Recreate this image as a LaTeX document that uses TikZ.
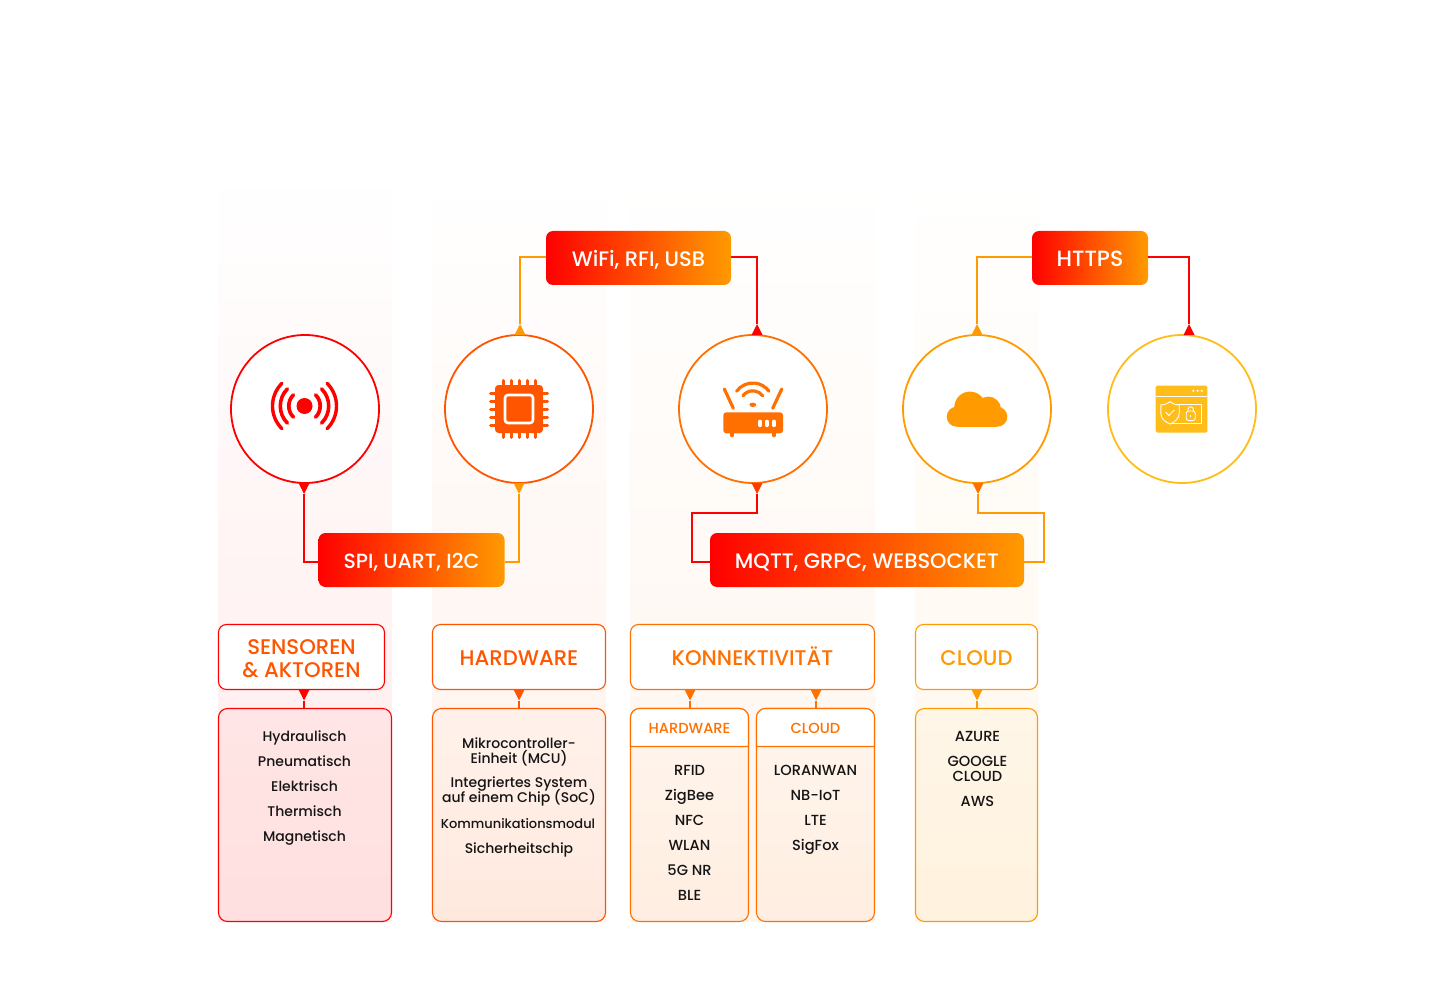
\documentclass[tikz,border=0pt]{standalone}
\usepackage{fontspec}
\setmainfont{Poppins}[UprightFont=* Medium]
\usetikzlibrary{arrows.meta,calc}

\definecolor{cRed}{HTML}{FF0000}
\definecolor{cDeep}{HTML}{FF5500}
\definecolor{cRouter}{HTML}{FF7000}
\definecolor{cAmber}{HTML}{FF9A00}
\definecolor{cGold}{HTML}{FFBD1A}
\definecolor{cInk}{HTML}{141414}

\begin{document}
\begin{tikzpicture}[x=1pt,y=-1pt,
    conn/.style={line width=1.9pt},
    tipto/.style={-{Triangle[reversed,width=11pt,length=11pt,line width=0pt,color=#1]}},
    ring/.style={circle,draw=#1,fill=white,line width=1.8pt,minimum size=148pt,inner sep=0pt,outer sep=0pt},
    gradbox/.style={rounded corners=7pt,left color=cRed,right color=cAmber,text=white,inner sep=0pt,outer sep=0pt,minimum height=54pt,text height=16.5pt,text depth=0pt,font=\fontsize{21}{21}\selectfont},
    headbox/.style={rectangle,rounded corners=8pt,draw=#1,line width=1.1pt,fill=white,inner sep=0pt,outer sep=0pt,minimum height=65pt,align=center,font=\fontsize{21.2}{23}\selectfont},
    listbox/.style={rectangle,rounded corners=9pt,draw=#1,line width=1.1pt,inner sep=0pt,outer sep=0pt,minimum height=213pt},
    strip/.style={top color=white,bottom color=#1},
    item/.style={text=cInk,inner sep=0pt,anchor=center,text height=11pt,text depth=0pt,font=\fontsize{14.6}{15}\selectfont},
    smallitem/.style={item,font=\fontsize{14}{15}\selectfont},
    twoline/.style={text=cInk,inner sep=0pt,anchor=center,align=center,font=\fontsize{14}{15}\selectfont}
]
    \useasboundingbox (0,0) rectangle (1440,1000);
    \fill[white] (0,0) rectangle (1440,1000);

    % columns behind everything
    \shade[strip=red!8] (218,170) rectangle (392,921);
    \shade[strip=cDeep!8] (432,170) rectangle (606,921);
    \shade[strip=cRouter!7] (630,170) rectangle (875,921);
    \shade[strip=cAmber!8] (915,170) rectangle (1038,921);

    % circles
    \node[ring=cRed] (sens) at (305,409) {};
    \node[ring=cDeep] (chip) at (519,409) {};
    \node[ring=cRouter] (router) at (753,409) {};
    \node[ring=cAmber] (cloud) at (977,409) {};
    \node[ring=cGold] (secure) at (1182,409) {};

    % protocol boxes
    \node[gradbox,minimum width=186pt,font=\fontsize{20.5}{21}\selectfont] (spi) at (411.5,560) {SPI, UART, I2C};
    \node[gradbox,minimum width=185pt] (wifi) at (638.5,258) {WiFi, RFI, USB};
    \node[gradbox,minimum width=116pt,font=\fontsize{22}{22}\selectfont] (https) at (1090,258) {HTTPS};
    \node[gradbox,minimum width=314pt] (mqtt) at (867,560) {MQTT, GRPC, WEBSOCKET};

    % connectors
    \draw[conn,cRed,tipto=cRed] ([yshift=-2pt]spi.west) -| ([xshift=-1pt]sens.south);
    \draw[conn,cAmber,tipto=cAmber] ([yshift=-2pt]spi.east) -| (chip.south);
    \draw[conn,cAmber,tipto=cAmber] ([yshift=1pt]wifi.west) -| ([xshift=1pt]chip.north);
    \draw[conn,cRed,tipto=cRed] ([yshift=1pt]wifi.east) -| ([xshift=4pt]router.north);
    \draw[conn,cAmber,tipto=cAmber] ([yshift=1pt]https.west) -| (cloud.north);
    \draw[conn,cRed,tipto=cRed] ([yshift=1pt]https.east) -| ([xshift=7pt]secure.north);
    \draw[conn,cRed,tipto=cDeep!70!cRed] ([yshift=-2pt]mqtt.west) -| ++(-18,-49) -| ([xshift=4pt]router.south);
    \draw[conn,cAmber,tipto=cRouter] ([yshift=-2pt]mqtt.east) -| ++(20,-49) -| ([xshift=1pt]cloud.south);

    % icon: signal
    \fill[cRed] (304.5,406) circle (8);
    \foreach \r/\w in {15.7/3.7,24.2/3.6,32/3.4} {
        \draw[cRed,line width=\w pt,line cap=round] ($(304.5,406)+(45:\r pt and -\r pt)$) arc[start angle=-45,end angle=45,radius=\r pt];
        \draw[cRed,line width=\w pt,line cap=round] ($(304.5,406)+(135:\r pt and -\r pt)$) arc[start angle=225,end angle=135,radius=\r pt];
    }

    % icon: chip
    \foreach \d in {-16,-8,0,8,16} {
        \draw[cDeep,line width=3pt,line cap=round] (519+\d,380.5) -- (519+\d,437.5);
        \draw[cDeep,line width=3pt,line cap=round] (490.5,409+\d) -- (547.5,409+\d);
    }
    \fill[cDeep,rounded corners=3.5pt] (495,385) rectangle (543,433);
    \draw[white,fill=cDeep,line width=2.6pt,rounded corners=3pt] (505,395) rectangle (533,423);

    % icon: router
    \fill[cRouter,rounded corners=3pt] (723.3,412.3) rectangle (783,433.3);
    \fill[cRouter,rounded corners=1pt] (730.2,432) rectangle (733.8,437);
    \fill[cRouter,rounded corners=1pt] (772.2,432) rectangle (775.8,437);
    \foreach \x in {760,766.8,774} {
        \draw[white,line width=3.4pt,line cap=round] (\x,421.4) -- (\x,425.4);
    }
    \draw[cRouter,line width=3.2pt,line cap=round] (724.3,389) -- (733.3,408.3);
    \draw[cRouter,line width=3.2pt,line cap=round] (781.8,389) -- (772.7,408.3);
    \foreach \r in {20,12.2} {
        \draw[cRouter,line width=3.2pt,line cap=round] ($(752.8,403)+(144:\r pt)$) arc[start angle=144,end angle=36,radius=\r pt];
    }
    \fill[cRouter] (752.8,404.8) ellipse (3.4 and 2.2);

    % icon: cloud
    \fill[cAmber] (970,407.3) circle (15.7);
    \fill[cAmber] (988.3,409.3) circle (12.7);
    \fill[cAmber] (956.7,416.7) circle (10);
    \fill[cAmber] (997.3,416.7) circle (10);
    \fill[cAmber] (956.7,406.7) rectangle (997.3,426.7);

    % icon: secure window
    \fill[cGold,rounded corners=1.5pt] (1155.7,385.7) rectangle (1207.3,432.7);
    \draw[white,line width=.9pt] (1155.7,396.3) -- (1207.3,396.3);
    \foreach \x in {1193.3,1197.6,1201.8} {
        \fill[white] (\x,390.8) circle (1.2);
    }
    \draw[white,line width=.9pt] (1170,404.3) rectangle (1201.7,423.3);
    \draw[white,fill=cGold,line width=.9pt] (1170,401.7) .. controls (1166,404.5) and (1163,405) .. (1160.8,405) -- (1160.8,413) .. controls (1160.8,418.5) and (1165,422) .. (1170,424) .. controls (1175,422) and (1179.2,418.5) .. (1179.2,413) -- (1179.2,405) .. controls (1177,405) and (1174,404.5) .. (1170,401.7) -- cycle;
    \draw[white,line width=1pt,line cap=round] (1165.8,412.5) -- (1168.8,415.5) -- (1174.2,410);
    \draw[white,line width=.9pt,rounded corners=2.5pt] (1186.2,411) rectangle (1195.2,420.6);
    \draw[white,line width=.9pt] (1188,411) -- (1188,409.5) arc[start angle=180,end angle=0,radius=2.7pt] -- (1193.4,411);
    \draw[white,line width=1pt] (1190.7,414.6) -- (1190.7,417.2);

    % heads
    \node[headbox=cRed,minimum width=166pt] (sensHead) at (301.5,657) {};
    \node[text=cDeep,inner sep=0pt,align=center,font=\fontsize{21.2}{23}\selectfont] (sensTitle) at (301.5,659) {SENSOREN\\\& AKTOREN};
    \node[headbox=cDeep,minimum width=173pt,text=cDeep,text height=16.5pt,text depth=0pt] (chipHead) at (519,657) {HARDWARE};
    \node[headbox=cRouter,minimum width=244pt,text=cRouter,text height=16.5pt,text depth=0pt] (connHead) at (752.5,657) {KONNEKTIVITÄT};
    \node[headbox=cAmber,minimum width=122pt,text=cAmber,text height=16.5pt,text depth=0pt] (cloudHead) at (976.5,657) {CLOUD};

    % lists
    \node[listbox=cRed,minimum width=173pt,top color=red!10,bottom color=red!12.5] (sensList) at (305,815) {};
    \node[listbox=cDeep,minimum width=173pt,top color=cDeep!8,bottom color=cDeep!13] (chipList) at (519,815) {};
    \node[listbox=cRouter,minimum width=118pt,top color=cRouter!7,bottom color=cRouter!12] (hwList) at (689.5,815) {};
    \node[listbox=cRouter,minimum width=118pt,top color=cRouter!7,bottom color=cRouter!12] (cldList) at (815.5,815) {};
    \node[listbox=cAmber,minimum width=122pt,top color=cAmber!9,bottom color=cAmber!13] (cloudList) at (976.5,815) {};

    % white tops of the two small lists
    \draw[cRouter,line width=1.1pt,fill=white] (630.5,746.5) -- (630.5,717.5) arc[start angle=180,end angle=90,radius=9pt] -- (739.5,708.5) arc[start angle=90,end angle=0,radius=9pt] -- (748.5,746.5) -- cycle;
    \draw[cRouter,line width=1.1pt,fill=white] (756.5,746.5) -- (756.5,717.5) arc[start angle=180,end angle=90,radius=9pt] -- (865.5,708.5) arc[start angle=90,end angle=0,radius=9pt] -- (874.5,746.5) -- cycle;
    \node[text=cRouter,inner sep=0pt,text height=10.5pt,text depth=0pt,font=\fontsize{14.6}{15}\selectfont] (hwTitle) at (689.5,728) {HARDWARE};
    \node[text=cRouter,inner sep=0pt,text height=10.5pt,text depth=0pt,font=\fontsize{14.6}{15}\selectfont] (cldTitle) at (815.5,728) {CLOUD};

    % head to list
    \draw[conn,cRed,tipto=cRed] ([xshift=-1pt]sensList.north) -- ([xshift=-1pt]sensList.north |- sensHead.south);
    \draw[conn,cDeep,tipto=cDeep] (chipList.north) -- (chipList.north |- chipHead.south);
    \draw[conn,cRouter,tipto=cRouter] ([xshift=.5pt]hwList.north) -- ([xshift=.5pt]hwList.north |- connHead.south);
    \draw[conn,cRouter,tipto=cRouter] ([xshift=.5pt]cldList.north) -- ([xshift=.5pt]cldList.north |- connHead.south);
    \draw[conn,cAmber,tipto=cAmber] ([xshift=.5pt]cloudList.north) -- ([xshift=.5pt]cloudList.north |- cloudHead.south);

    % list texts
    \foreach \y/\t in {736/Hydraulisch,761/Pneumatisch,786/Elektrisch,811/Thermisch,836/Magnetisch} {
        \node[smallitem] (sens\y) at (304.5,\y) {\t};
    }
    \foreach \y/\t in {752/{Mikrocontroller-\\Einheit (MCU)},791.5/{Integriertes System\\[-3pt]auf einem Chip (SoC)}} {
        \node[twoline] (chip\y) at (519,\y) {\t};
    }
    \node[smallitem,text height=10pt,font=\fontsize{13}{14}\selectfont] (chip823) at (518,823.5) {Kommunikationsmodul};
    \node[smallitem] (chip848) at (519,848) {Sicherheitschip};
    \foreach \y/\t in {770/RFID,795/ZigBee,820/NFC,845/WLAN,870/5G NR,895/BLE} {
        \node[item] (hw\y) at (689.5,\y) {\t};
    }
    \foreach \y/\t in {770/LORANWAN,795/NB-IoT,820/LTE,845/SigFox} {
        \node[item] (cld\y) at (815.5,\y) {\t};
    }
    \node[item] (cloud736) at (977.5,736) {AZURE};
    \node[twoline,font=\fontsize{14.6}{15}\selectfont] (cloud768) at (977.5,768.5) {GOOGLE\\CLOUD};
    \node[item] (cloud801) at (977.5,801) {AWS};
\end{tikzpicture}
\end{document}
